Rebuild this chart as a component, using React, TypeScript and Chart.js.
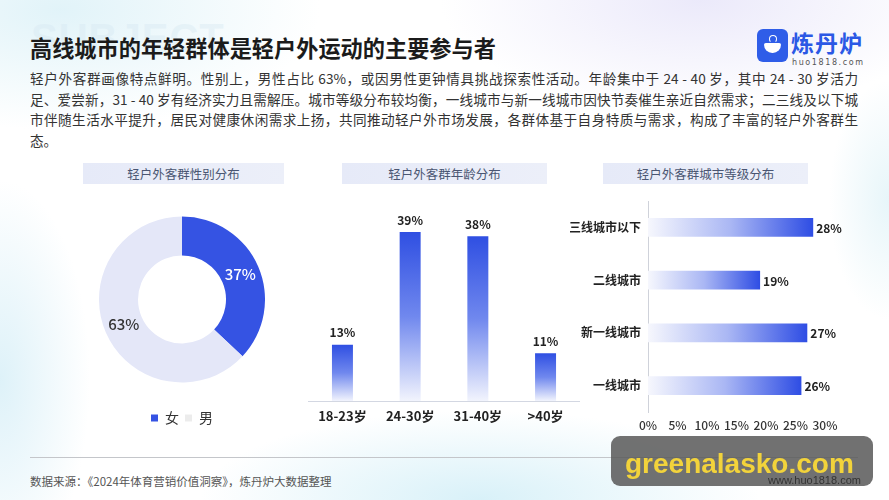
import React, { useEffect, useRef } from "react";
import { Chart, registerables } from "chart.js";

Chart.register(...registerables);

// ---------- data ----------
const genderLabels = ["女", "男"];
const genderValues = [37, 63];

const ageLabels = ["18-23岁", "24-30岁", "31-40岁", ">40岁"];
const ageValues = [13, 39, 38, 11];

const cityLabels = ["三线城市以下", "二线城市", "新一线城市", "一线城市"];
const cityValues = [28, 19, 27, 26];
const cityTickStep = 5;
const cityMax = 30;

const titleText = "高线城市的年轻群体是轻户外运动的主要参与者";
const paragraphLines = [
  "轻户外客群画像特点鲜明。性别上，男性占比 63%，或因男性更钟情具挑战探索性活动。年龄集中于 24 - 40 岁，其中 24 - 30 岁活力",
  "足、爱尝新，31 - 40 岁有经济实力且需解压。城市等级分布较均衡，一线城市与新一线城市因快节奏催生亲近自然需求；二三线及以下城",
  "市伴随生活水平提升，居民对健康休闲需求上扬，共同推动轻户外市场发展，各群体基于自身特质与需求，构成了丰富的轻户外客群生",
  "态。",
];
const panelTitles = ["轻户外客群性别分布", "轻户外客群年龄分布", "轻户外客群城市等级分布"];
const sourceText = "数据来源：《2024年体育营销价值洞察》，炼丹炉大数据整理";

const FONT = '"Noto Sans CJK SC", "Noto Sans", sans-serif';
Chart.defaults.font.family = FONT;

// ---------- label plugin ----------
const valueLabelPlugin = {
  id: "valueLabels",
  afterDatasetsDraw(chart: any, _args: any, opts: any) {
    const ctx = chart.ctx;
    const meta = chart.getDatasetMeta(0);
    const data = chart.data.datasets[0].data;
    ctx.save();
    ctx.font = `${opts.weight || "bold"} ${opts.size || 12}px ${FONT}`;
    meta.data.forEach((el: any, i: number) => {
      const text = data[i] + "%";
      if (opts.mode === "doughnut") {
        const p = el.tooltipPosition();
        ctx.fillStyle = opts.colors[i];
        ctx.textAlign = "center";
        ctx.textBaseline = "middle";
        ctx.fillText(text, p.x, p.y);
      } else if (opts.mode === "vbar") {
        ctx.fillStyle = opts.color;
        ctx.textAlign = "center";
        ctx.textBaseline = "bottom";
        ctx.fillText(text, el.x, el.y - 6);
      } else {
        ctx.fillStyle = opts.color;
        ctx.textAlign = "left";
        ctx.textBaseline = "middle";
        ctx.fillText(text, el.x + 3, el.y + 1);
      }
    });
    ctx.restore();
  },
};

function useChart(ref: React.RefObject<HTMLCanvasElement>, makeConfig: () => any) {
  useEffect(() => {
    if (!ref.current) return;
    const chart = new Chart(ref.current, makeConfig());
    return () => chart.destroy();
  }, []);
}

function GenderChart() {
  const ref = useRef<HTMLCanvasElement>(null);
  useChart(ref, () => ({
    type: "doughnut",
    data: {
      labels: genderLabels,
      datasets: [
        {
          data: genderValues,
          backgroundColor: ["#3553e3", "#e4e7f8"],
          borderWidth: 0,
        },
      ],
    },
    options: {
      animation: false,
      responsive: false,
      cutout: "53%",
      layout: { padding: 0 },
      plugins: {
        legend: {
          position: "bottom",
          labels: {
            boxWidth: 7,
            boxHeight: 7,
            padding: 6,
            color: "#333",
            font: { size: 14, family: FONT },
            generateLabels: (chart: any) => {
              const base = Chart.overrides.doughnut.plugins.legend.labels.generateLabels(chart);
              return base.map((l: any, i: number) => ({
                ...l,
                fillStyle: i === 0 ? "#3553e3" : "#ececec",
                strokeStyle: "transparent",
                lineWidth: 0,
              }));
            },
          },
        },
        tooltip: { enabled: false },
        valueLabels: { mode: "doughnut", colors: ["#ffffff", "#333333"], size: 15, weight: "500" },
      },
    },
    plugins: [valueLabelPlugin],
  }));
  return (
    <canvas
      ref={ref}
      width={166}
      height={241}
      style={{ position: "absolute", left: 99, top: 194, width: 166, height: 241 }}
    />
  );
}

function AgeChart() {
  const ref = useRef<HTMLCanvasElement>(null);
  useChart(ref, () => ({
    type: "bar",
    data: {
      labels: ageLabels,
      datasets: [
        {
          data: ageValues,
          barPercentage: 0.31,
          categoryPercentage: 1,
          borderWidth: 0,
          backgroundColor: (c: any) => {
            const chart = c.chart;
            const { chartArea, scales } = chart;
            if (!chartArea || !scales.y || c.type !== "data") return "#3553e3";
            const v = Number(c.raw);
            const yTop = scales.y.getPixelForValue(v);
            const yBot = scales.y.getPixelForValue(0);
            const g = chart.ctx.createLinearGradient(0, yTop, 0, yBot);
            g.addColorStop(0, "#2f4fe2");
            g.addColorStop(0.5, "#7088ee");
            g.addColorStop(1, "#f2f4fd");
            return g;
          },
        },
      ],
    },
    options: {
      animation: false,
      responsive: false,
      layout: { padding: { left: 8.6, right: 10.6, top: 11, bottom: 6 } },
      scales: {
        x: {
          grid: { display: false, drawTicks: false },
          border: { display: true, color: "#d3d7e2", width: 1 },
          ticks: {
            color: "#222",
            padding: 7,
            maxRotation: 0,
            minRotation: 0,
            font: { size: 13, weight: "bold", family: FONT },
          },
          afterFit: (s: any) => {
            s.height = 28;
          },
        },
        y: { display: false, min: 0, max: 45 },
      },
      plugins: {
        legend: { display: false },
        tooltip: { enabled: false },
        valueLabels: { mode: "vbar", color: "#222", size: 12, weight: "bold" },
      },
    },
    plugins: [valueLabelPlugin],
  }));
  return (
    <canvas
      ref={ref}
      width={290}
      height={240}
      style={{ position: "absolute", left: 300, top: 195, width: 290, height: 240 }}
    />
  );
}

function CityChart() {
  const ref = useRef<HTMLCanvasElement>(null);
  useChart(ref, () => ({
    type: "bar",
    data: {
      labels: cityLabels,
      datasets: [
        {
          data: cityValues,
          barPercentage: 0.36,
          categoryPercentage: 1,
          borderWidth: 0,
          backgroundColor: (c: any) => {
            const chart = c.chart;
            const { chartArea, scales } = chart;
            if (!chartArea || !scales.x || c.type !== "data") return "#3553e3";
            const v = Number(c.raw);
            const x0 = scales.x.getPixelForValue(0);
            const x1 = scales.x.getPixelForValue(v);
            const g = chart.ctx.createLinearGradient(x0, 0, x1, 0);
            g.addColorStop(0, "#f6f7fd");
            g.addColorStop(0.5, "#aab7f4");
            g.addColorStop(1, "#2e4de4");
            return g;
          },
        },
      ],
    },
    options: {
      indexAxis: "y",
      animation: false,
      responsive: false,
      layout: { padding: { left: 0, right: 45, top: 6, bottom: 2 } },
      scales: {
        y: {
          grid: { display: false, drawTicks: false },
          border: { display: true, color: "#cfd2da", width: 1 },
          ticks: { color: "#222", padding: 7, font: { size: 12, weight: "bold", family: FONT } },
          afterFit: (s: any) => {
            s.width = 78;
            s.paddingTop = 0;
            s.paddingBottom = 0;
          },
        },
        x: {
          min: 0,
          max: cityMax,
          grid: { display: false, drawTicks: false },
          border: { display: false },
          ticks: {
            stepSize: cityTickStep,
            autoSkip: false,
            maxRotation: 0,
            minRotation: 0,
            color: "#333",
            padding: 6,
            font: { size: 12, weight: "500", family: FONT },
            callback: (v: any) => v + "%",
          },
          afterFit: (s: any) => {
            s.height = 26;
          },
        },
      },
      plugins: {
        legend: { display: false },
        tooltip: { enabled: false },
        valueLabels: { mode: "hbar", color: "#222", size: 12, weight: "bold" },
      },
    },
    plugins: [valueLabelPlugin],
  }));
  return (
    <canvas
      ref={ref}
      width={300}
      height={245}
      style={{ position: "absolute", left: 570, top: 195, width: 300, height: 245 }}
    />
  );
}

const headerBox = (left: number, width: number): React.CSSProperties => ({
  position: "absolute",
  left,
  top: 163,
  width,
  height: 21,
  background: "linear-gradient(90deg, #e6eaf8, #eceff9)",
  color: "#4a5672",
  fontSize: 12.5,
  lineHeight: "21px",
  textAlign: "center",
  fontFamily: FONT,
});

export default function App() {
  return (
    <div
      style={{
        position: "absolute",
        left: 0,
        top: 0,
        width: 889,
        height: 500,
        overflow: "hidden",
        fontFamily: FONT,
        background:
          "radial-gradient(ellipse 260px 120px at 60px 10px, rgba(222,242,248,0.9), rgba(255,255,255,0) 100%)," +
          "radial-gradient(ellipse 260px 110px at 700px 0px, rgba(234,232,250,0.95), rgba(255,255,255,0) 100%)," +
          "radial-gradient(ellipse 280px 90px at 480px 500px, rgba(214,240,248,0.95), rgba(255,255,255,0) 100%)," +
          "radial-gradient(ellipse 90px 200px at 0px 380px, rgba(218,240,248,0.9), rgba(255,255,255,0) 100%)," +
          "radial-gradient(ellipse 60px 120px at 889px 200px, rgba(225,243,248,0.8), rgba(255,255,255,0) 100%)," +
          "#ffffff",
      }}
    >
      {/* faint background word */}
      <div
        style={{
          position: "absolute",
          left: 31,
          top: 18,
          fontFamily: '"Liberation Sans", Arial, sans-serif',
          fontWeight: "bold",
          fontSize: 40,
          letterSpacing: 1,
          lineHeight: "40px",
          color: "rgba(214,232,242,0.42)",
        }}
      >
        SUBJECT
      </div>

      {/* title */}
      <div
        style={{
          position: "absolute",
          left: 30,
          top: 36,
          fontSize: 22.2,
          lineHeight: "23px",
          fontWeight: "bold",
          color: "#1b1b1b",
          whiteSpace: "nowrap",
        }}
      >
        {titleText}
      </div>

      {/* logo */}
      <div
        style={{
          position: "absolute",
          left: 757,
          top: 29,
          width: 31,
          height: 33,
          borderRadius: 6,
          background: "#2f5de8",
        }}
      >
        <div
          style={{
            position: "absolute",
            left: 7,
            top: 14,
            width: 17,
            height: 10,
            background: "#fff",
            borderRadius: "2px 2px 9px 9px",
          }}
        />
        <div
          style={{
            position: "absolute",
            left: 12,
            top: 6,
            width: 6,
            height: 6,
            border: "1.5px solid #fff",
            borderRadius: "50%",
            borderBottomColor: "transparent",
          }}
        />
      </div>
      <div
        style={{
          position: "absolute",
          left: 791,
          top: 30,
          fontSize: 23,
          lineHeight: "24px",
          fontWeight: "bold",
          letterSpacing: 1,
          color: "#2b58e5",
          whiteSpace: "nowrap",
        }}
      >
        炼丹炉
      </div>
      <div
        style={{
          position: "absolute",
          left: 792,
          top: 58,
          fontSize: 8,
          lineHeight: "10px",
          letterSpacing: 1.6,
          color: "#555",
          fontFamily: '"DejaVu Sans", sans-serif',
          whiteSpace: "nowrap",
        }}
      >
        huo1818.com
      </div>

      {/* paragraph */}
      <div
        style={{
          position: "absolute",
          left: 30,
          top: 68,
          width: 828,
          fontSize: 13.6,
          lineHeight: "20.7px",
          color: "#333",
        }}
      >
        {paragraphLines.map((l, i) => (
          <div
            key={i}
            style={{
              height: 20.7,
              overflow: "visible",
              textAlign: i < paragraphLines.length - 1 ? "justify" : "left",
              textAlignLast: i < paragraphLines.length - 1 ? "justify" : "left",
            } as React.CSSProperties}
          >
            {l}
          </div>
        ))}
      </div>

      {/* panel headers */}
      <div style={headerBox(83, 201)}>{panelTitles[0]}</div>
      <div style={headerBox(342, 205)}>{panelTitles[1]}</div>
      <div style={headerBox(603, 205)}>{panelTitles[2]}</div>

      <GenderChart />
      <AgeChart />
      <CityChart />

      {/* footer */}
      <div
        style={{
          position: "absolute",
          left: 30,
          top: 457,
          width: 828,
          height: 1,
          background: "#c4c6ca",
        }}
      />
      <div
        style={{
          position: "absolute",
          left: 30,
          top: 473,
          fontSize: 11.5,
          lineHeight: "16px",
          color: "#555",
          whiteSpace: "nowrap",
        }}
      >
        {sourceText}
      </div>

      {/* watermark overlay */}
      <div
        style={{
          position: "absolute",
          left: 611,
          top: 436,
          width: 262,
          height: 50,
          borderRadius: 9,
          background: "rgba(88,88,88,0.85)",
        }}
      />
      <div
        style={{
          position: "absolute",
          left: 625,
          top: 448,
          fontFamily: '"Liberation Sans", Arial, sans-serif',
          fontWeight: "bold",
          fontSize: 28,
          lineHeight: "32px",
          color: "#f2d33b",
          whiteSpace: "nowrap",
        }}
      >
        greenalasko.com
      </div>
      <div
        style={{
          position: "absolute",
          left: 768,
          top: 473,
          width: 90,
          textAlign: "right",
          fontFamily: '"Liberation Sans Narrow", "Liberation Sans", Arial, sans-serif',
          fontSize: 11,
          lineHeight: "14px",
          color: "#333",
          whiteSpace: "nowrap",
        }}
      >
        www.huo1818.com
      </div>
    </div>
  );
}
